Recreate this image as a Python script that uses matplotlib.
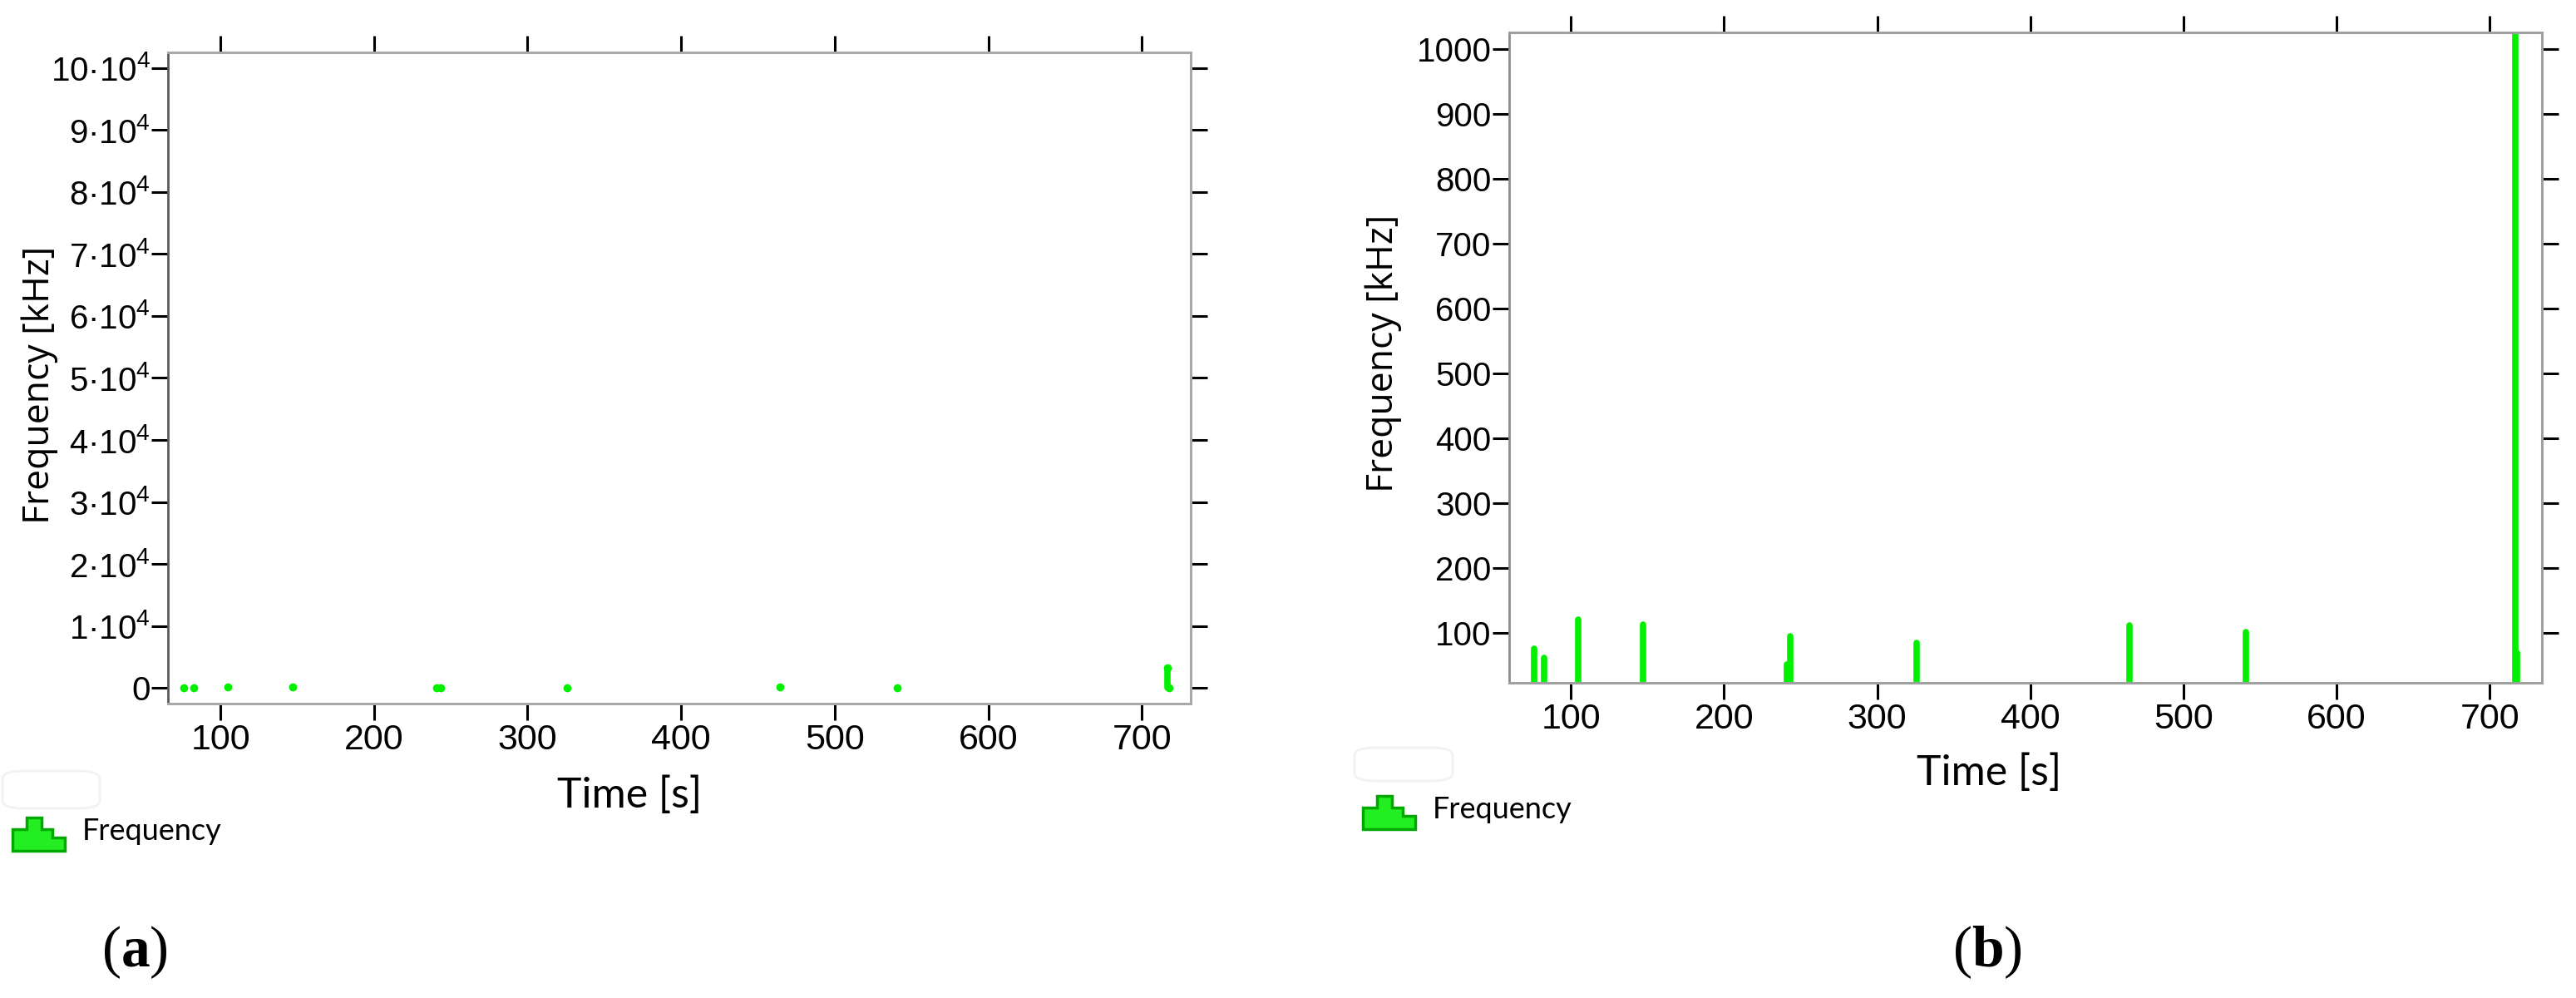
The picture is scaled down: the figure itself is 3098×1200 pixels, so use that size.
import matplotlib
matplotlib.use("Agg")
import matplotlib.pyplot as plt
from matplotlib.patches import Polygon, FancyBboxPatch
from matplotlib.ticker import FixedLocator, FixedFormatter

plt.rcParams['font.family'] = ['Liberation Sans', 'DejaVu Sans']
plt.rcParams['mathtext.fontset'] = 'custom'
plt.rcParams['mathtext.rm'] = 'Liberation Sans'
plt.rcParams['mathtext.bf'] = 'Liberation Serif:bold'

# ---------------- data ----------------
time_s = [76.2, 82.5, 104.9, 147.2, 241.0, 243.4, 325.6, 464.5, 540.9, 716.7, 718.0]
freq_khz = [75.5, 61.4, 120.2, 112.9, 51.5, 94.8, 85.0, 111.6, 100.9, 3300.0, 68.7]

x_ticks = [100, 200, 300, 400, 500, 600, 700]
left_y_ticks = [0, 1e4, 2e4, 3e4, 4e4, 5e4, 6e4, 7e4, 8e4, 9e4, 10e4]
left_y_labels = ["0"] + [f"{k}·10$^{{\\mathregular{{4}}}}$" for k in range(1, 11)]
right_y_ticks = [100, 200, 300, 400, 500, 600, 700, 800, 900, 1000]
right_y_labels = [str(v) for v in right_y_ticks]

xlabel = "Time [s]"
ylabel = "Frequency [kHz]"
legend_label = "Frequency"
panel_labels = ["a", "b"]

# ---------------- figure ----------------
W, H = 3098, 1200
fig = plt.figure(figsize=(W / 100, H / 100), dpi=100)
GREEN = '#00f000'


def fx(px):
    return px / W


def fy(py):
    return 1 - py / H


def style_axes(ax, left_spine_color, other_color):
    for side in ['top', 'right', 'bottom']:
        ax.spines[side].set_color(other_color)
        ax.spines[side].set_linewidth(2.2)
    ax.spines['left'].set_color(left_spine_color)
    ax.spines['left'].set_linewidth(2.0)
    ax.tick_params(direction='out', length=14.5, width=2.2, color='black',
                   top=True, right=True, labeltop=False, labelright=False)
    ax.tick_params(axis='x', labelsize=31, pad=3)
    ax.tick_params(axis='y', labelsize=29, pad=1)
    ax.set_facecolor('white')


# Panel (a)
axA = fig.add_axes([fx(202.3), fy(845.7), fx(1432.3) - fx(202.3), fy(63.3) - fy(845.7)])
lcA = axA.vlines(time_s, 0, freq_khz, colors=GREEN, linewidth=5.5)
lcA.set_capstyle('round')
axA.plot(time_s, freq_khz, 'o', ms=7.0, color=GREEN, mec='none')
axA.set_xlim(66, 732)
axA.set_ylim(-2470, 102470)
axA.xaxis.set_major_locator(FixedLocator(x_ticks))
axA.yaxis.set_major_locator(FixedLocator(left_y_ticks))
axA.yaxis.set_major_formatter(FixedFormatter(left_y_labels))
style_axes(axA, '#5a5a5a', '#a9a9a9')

# Panel (b)
axB = fig.add_axes([fx(1815), fy(820.7), fx(3057.3) - fx(1815), fy(39.3) - fy(820.7)])
lcB = axB.vlines(time_s, 0, freq_khz, colors=GREEN, linewidth=5.5)
lcB.set_capstyle('round')
axB.set_xlim(59.7, 734.2)
axB.set_ylim(23.5, 1025)
axB.xaxis.set_major_locator(FixedLocator(x_ticks))
axB.yaxis.set_major_locator(FixedLocator(right_y_ticks))
axB.yaxis.set_major_formatter(FixedFormatter(right_y_labels))
style_axes(axB, '#8c8c8c', '#a0a0a0')

# Axis labels
fig.text(fx(757), fy(957), xlabel, fontsize=36, family=['Lato', 'DejaVu Sans'],
         ha='center', va='center')
fig.text(fx(2392), fy(930), xlabel, fontsize=36, family=['Lato', 'DejaVu Sans'],
         ha='center', va='center')
fig.text(fx(48), fy(463), ylabel, fontsize=32, family=['Open Sans', 'DejaVu Sans'],
         rotation=90, ha='center', va='center')
fig.text(fx(1664), fy(425), ylabel, fontsize=32, family=['Open Sans', 'DejaVu Sans'],
         rotation=90, ha='center', va='center')

# Legends (icon + text), plus faint rounded boxes
icon = [(15, 1023), (15, 997), (32, 997), (32, 983), (50, 983), (50, 997),
        (63, 997), (63, 1007), (78, 1007), (78, 1023)]
for dx, dy, box in [(0, 0, (3, 927, 117, 45)), (1624, -26, (1629, 899, 118, 40))]:
    pts = [(fx(x + dx), fy(y + dy)) for x, y in icon]
    fig.patches.append(Polygon(pts, closed=True, facecolor='#22ee22', edgecolor='#00a800',
                               linewidth=2.5, transform=fig.transFigure, zorder=5))
    fig.text(fx(99 + dx), fy(1000 + dy), legend_label, fontsize=26,
             family=['Lato', 'DejaVu Sans'], ha='left', va='center')
    bx, by, bw, bh = box
    fig.patches.append(FancyBboxPatch((fx(bx), fy(by + bh)), fx(bw), bh / H,
                                      boxstyle="round,pad=0,rounding_size=0.008",
                                      facecolor='none', edgecolor='#f2f2f2', linewidth=2,
                                      transform=fig.transFigure))

# Panel labels
for lab, px in zip(panel_labels, [162, 2390]):
    fig.text(fx(px), fy(1145), f"($\\mathbf{{{lab}}}$)", fontsize=50,
             family=['Liberation Serif', 'DejaVu Serif'], ha='center', va='center')

fig.savefig("out.png", dpi=100, facecolor='white')
